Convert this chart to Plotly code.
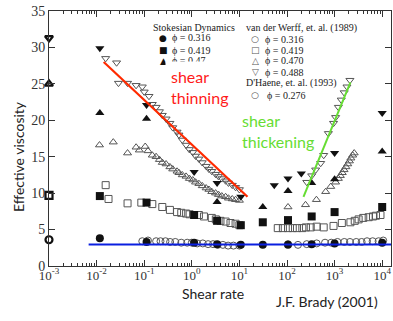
import plotly.graph_objects as go

# ---------------- data ----------------
# Bold open symbols at the left edge (shear rate 1e-3)
zero_x = [0.001, 0.001, 0.001, 0.001]
zero_y = [31.3, 25.0, 9.7, 3.6]
zero_sym = ["triangle-down-open", "triangle-up-open", "square-open", "circle-open"]

# Stokesian Dynamics (filled)
sd_316_x = [0.0117, 0.112, 1.12, 3.4, 10.7, 31, 105, 330, 1000, 10000]
sd_316_y = [3.8, 3.3, 3.2, 3.0, 2.9, 2.9, 2.9, 3.0, 3.1, 3.2]
sd_419_x = [0.0117, 0.112, 1.12, 3.4, 10.7, 31, 105, 330, 1000, 10000]
sd_419_y = [9.6, 8.7, 7.0, 6.2, 5.6, 6.0, 6.3, 6.8, 7.4, 8.1]
sd_47_x = [0.0117, 0.112, 3.4, 31, 105, 330, 1000, 10000]
sd_47_y = [21.0, 20.2, 8.8, 8.1, 10.3, 11.4, 11.9, 15.7]
sd_49_x = [0.0117, 0.112, 1.12, 3.4, 10.7, 54, 105, 200, 1000, 10000]
sd_49_y = [29.9, 22.1, 12.9, 11.4, 9.5, 11.1, 12.0, 12.7, 15.5, 21.0]

# van der Werff et al. (1989) (open)
vw_488_x = [0.0155, 0.0263, 0.0288, 0.0447, 0.0676, 0.0912, 0.1, 0.126, 0.148, 0.178,
            0.209, 0.24, 0.288, 0.347, 0.398, 0.49, 0.537, 0.631, 0.759, 0.891,
            1.05, 1.2, 1.41, 1.66, 2.0, 2.29, 2.63, 3.16, 3.63, 4.27,
            5.13, 5.89, 7.08, 8.32, 10.0,
            260, 330, 400, 510, 590, 740, 950, 1050, 1200, 1380, 1590, 1820, 2100]
vw_488_y = [28.5, 27.9, 25.1, 25.1, 24.8, 24.6, 23.9, 23.3, 22.2, 21.8,
            21.2, 20.7, 20.2, 19.6, 19.0, 18.4, 18.0, 17.3, 16.6, 16.0,
            15.6, 15.1, 14.7, 14.2, 13.7, 13.3, 13.0, 12.6, 12.3, 12.0,
            11.7, 11.4, 11.1, 10.8, 10.5,
            11.5, 12.4, 13.2, 14.1, 15.2, 18.2, 19.6, 20.4, 21.8, 22.8, 23.8, 24.6, 25.5]
vw_470_x = [0.0115, 0.0224, 0.0447, 0.0676, 0.079, 0.105, 0.12, 0.148, 0.178, 0.209,
            0.24, 0.288, 0.347, 0.398, 0.49, 0.537, 0.631, 0.759, 0.891, 1.05,
            1.2, 1.41, 1.66, 2.0, 2.29, 2.63, 3.16, 3.63, 4.27, 5.13,
            5.89, 7.08, 8.32, 10.0,
            105, 245, 415, 650, 830, 1050, 1200, 1320, 1450, 1580, 1730, 1890, 2050, 2200, 2400, 2580]
vw_470_y = [16.6, 17.0, 15.5, 16.3, 15.9, 16.4, 15.8, 15.2, 15.0, 14.6,
            14.2, 14.0, 13.6, 13.3, 13.0, 12.8, 12.5, 12.3, 12.0, 11.8,
            11.5, 11.3, 11.0, 10.7, 10.5, 10.2, 10.0, 9.8, 9.6, 9.5,
            9.3, 9.2, 9.1, 9.0,
            8.1, 8.4, 9.1, 10.2, 10.9, 11.5, 12.0, 12.4, 12.8, 13.2, 13.6, 14.0, 14.4, 14.8, 15.2, 15.5]
vw_419_x = [0.0155, 0.0178, 0.0447, 0.087, 0.148, 0.24, 0.347, 0.49, 0.6, 0.759,
            0.9, 1.41, 1.8, 2.63, 3.2, 4.0, 5.13, 6.5, 8.32, 10.0,
            64, 82, 105, 132, 162, 210, 250, 315, 420, 590,
            950, 1420, 2150, 2650, 3200, 4000, 5200, 6400, 7400, 9200]
vw_419_y = [11.1, 9.2, 8.6, 8.7, 8.5, 8.1, 7.7, 7.4, 7.3, 7.2,
            7.1, 7.0, 6.8, 6.6, 6.4, 6.2, 6.1, 5.9, 5.8, 5.6,
            5.2, 5.2, 5.2, 5.2, 5.2, 5.2, 5.3, 5.3, 5.4, 5.3,
            5.5, 5.9, 6.0, 6.2, 6.4, 6.6, 6.7, 6.8, 6.9, 7.0]
vw_316_x = [0.0912, 0.12, 0.178, 0.22, 0.28, 0.35, 0.45, 0.6, 0.8, 1.0,
            1.3, 1.7, 2.2, 2.8, 3.5, 4.5, 5.8, 7.5, 10.0]
vw_316_y = [3.4, 3.5, 3.4, 3.4, 3.4, 3.3, 3.3, 3.2, 3.2, 3.2,
            3.1, 3.1, 3.0, 3.0, 2.9, 2.9, 2.8, 2.8, 2.8]
# D'Haene et al. (1993)
dh_276_x = [105, 170, 260, 420, 630, 850, 1150, 1600, 2100, 2850, 3700, 4800, 6300, 8400, 10500]
dh_276_y = [3.0, 2.9, 3.0, 3.1, 3.2, 3.2, 3.3, 3.3, 3.3, 3.3, 3.3, 3.4, 3.4, 3.4, 3.5]

# guide lines drawn on the figure
red_x, red_y = [0.0141, 14.8], [28.0, 9.5]
green_x, green_y = [222, 2150], [9.5, 25.2]
blue_x, blue_y = [0.0068, 20000], [2.95, 2.95]

tick_exp = [-3, -2, -1, 0, 1, 2, 3, 4]
tick_vals = [10.0 ** e for e in tick_exp]
tick_text = ["10<sup>%d</sup>" % e for e in tick_exp]
y_ticks = [0, 5, 10, 15, 20, 25, 30, 35]

# ---------------- figure ----------------
W, H = 393, 321
L, R, T, B = 49, 2, 11, 55
PW, PH = W - L - R, H - T - B


def px(x):
    """page pixel x -> paper coordinate"""
    return (x - L) / PW


def py(y):
    """page pixel y -> paper coordinate"""
    return (H - B - y) / PH


fig = go.Figure()

OPEN = "#555555"
FILL = "#111111"


def add_markers(x, y, symbol, size, color, lw, clip=True):
    fig.add_trace(go.Scatter(
        x=x, y=y, mode="markers", cliponaxis=clip, showlegend=False,
        marker=dict(symbol=symbol, size=size, color=color,
                    line=dict(color=color, width=lw))))


def add_line(x, y, color, width):
    fig.add_trace(go.Scatter(x=x, y=y, mode="lines", showlegend=False,
                             line=dict(color=color, width=width)))


# open experimental symbols
add_markers(vw_316_x, vw_316_y, "circle-open", 7, OPEN, 1)
add_markers(dh_276_x, dh_276_y, "circle-open", 7, OPEN, 1)
add_markers(vw_419_x, vw_419_y, "square-open", 7, OPEN, 1)
add_markers(vw_470_x, vw_470_y, "triangle-up-open", 7, OPEN, 1)
add_markers(vw_488_x, vw_488_y, "triangle-down-open", 7, OPEN, 1)

# filled Stokesian Dynamics
add_markers(sd_316_x, sd_316_y, "circle", 8, FILL, 0)
add_markers(sd_419_x, sd_419_y, "square", 8, FILL, 0)
add_markers(sd_47_x, sd_47_y, "triangle-up", 8, FILL, 0)
add_markers(sd_49_x, sd_49_y, "triangle-down", 8, FILL, 0)

# bold open markers at left edge
for xx, yy, s in zip(zero_x, zero_y, zero_sym):
    add_markers([xx], [yy], s, 7, "#111111", 2.2, clip=False)

# guide lines
add_line(blue_x, blue_y, "#0a1fe0", 2.2)
add_line(red_x, red_y, "#ff2a00", 2.2)
add_line(green_x, green_y, "#66dd33", 2.0)

minor_vals = [m * 10.0 ** e for e in range(-3, 5) for m in range(2, 10)]

fig.update_layout(
    width=W, height=H,
    margin=dict(l=L, r=R, t=T, b=B),
    paper_bgcolor="white", plot_bgcolor="white",
    hovermode=False,
    xaxis=dict(type="log", range=[-3, 4.185], tickmode="array",
               tickvals=tick_vals, ticktext=tick_text, ticklabeloverflow="allow",
               ticklabelstandoff=-3,
               ticks="inside", ticklen=6, tickcolor="#333", tickwidth=1,
               showline=True, linecolor="#333", linewidth=1, mirror="ticks",
               showgrid=False, zeroline=False,
               tickfont=dict(family="Liberation Serif", size=13, color="#333"),
               minor=dict(tickvals=minor_vals, ticks="inside", ticklen=3,
                          tickcolor="#333", showgrid=False)),
    yaxis=dict(range=[0, 35], tickmode="array", tickvals=y_ticks,
               ticklabeloverflow="allow",
               ticks="inside", ticklen=6, tickcolor="#333", tickwidth=1,
               showline=True, linecolor="#333", linewidth=1, mirror="ticks",
               showgrid=False, zeroline=False,
               tickfont=dict(family="Liberation Serif", size=14, color="#333")),
)

SANS = "Lato"
SERIF = "Liberation Serif"
ann = []


def text(x, y, s, size, color="#222", family=SANS, xanchor="center", angle=0, **kw):
    ann.append(dict(x=px(x), y=py(y), xref="paper", yref="paper", text=s,
                    showarrow=False, xanchor=xanchor, yanchor="middle",
                    textangle=angle, font=dict(family=family, size=size, color=color), **kw))


text(18, 157, "Effective viscosity", 14, angle=-90)
text(213, 293, "Shear rate", 14)
text(327, 301, "J.F. Brady (2001)", 14)

# legend (serif text)
LS = 10
text(151, 27, "Stokesian Dynamics", LS, family=SERIF, xanchor="left")
for yy, sym, lab in [(38, "●", "ϕ = 0.316"), (50, "■", "ϕ = 0.419"), (61, "▲", "ϕ = 0.47")]:
    text(163, yy, sym, 9, color="#111", family="DejaVu Sans")
    text(170, yy, lab, LS, family=SERIF, xanchor="left")
text(244, 28, "van der Werff, et. al. (1989)", LS, family=SERIF, xanchor="left")
for yy, sym, lab in [(39, "○", "ϕ = 0.316"), (50, "□", "ϕ = 0.419"),
                     (61, "△", "ϕ = 0.470"), (72, "▽", "ϕ = 0.488")]:
    text(255, yy, sym, 9, color="#555", family="DejaVu Sans")
    text(263, yy, lab, LS, family=SERIF, xanchor="left")
text(244, 83, "D'Haene, et. al. (1993)", LS, family=SERIF, xanchor="left")
text(255, 95, "○", 9, color="#555", family="DejaVu Sans")
text(265, 95, "ϕ = 0.276", LS, family=SERIF, xanchor="left")

# red / green labels
ann.append(dict(x=px(165), y=py(87), xref="paper", yref="paper",
                text="shear<br>thinning", showarrow=False, align="left",
                xanchor="left", yanchor="middle", bgcolor="white", borderpad=5,
                font=dict(family=SANS, size=16, color="#ff1a1a")))
ann.append(dict(x=px(240), y=py(131), xref="paper", yref="paper",
                text="shear<br>thickening", showarrow=False, align="left",
                xanchor="left", yanchor="middle",
                font=dict(family=SANS, size=16, color="#66dd33")))

fig.update_layout(annotations=ann)
# remove the browser's default 8px body margin so the figure fills the window
fig.write_html("out.html", config={"displayModeBar": False},
               post_script="document.body.style.margin='0';")
